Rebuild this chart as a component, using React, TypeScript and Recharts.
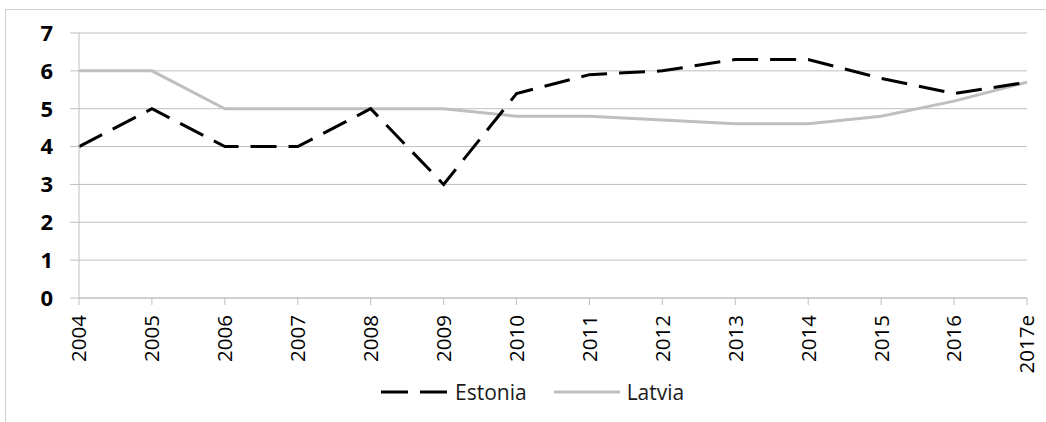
import { LineChart, Line, XAxis, YAxis, CartesianGrid, Legend } from 'recharts';

const years = ['2004', '2005', '2006', '2007', '2008', '2009', '2010', '2011', '2012', '2013', '2014', '2015', '2016', '2017e'];
const estonia = [4, 5, 4, 4, 5, 3, 5.4, 5.9, 6, 6.3, 6.3, 5.8, 5.4, 5.7];
const latvia = [6, 6, 5, 5, 5, 5, 4.8, 4.8, 4.7, 4.6, 4.6, 4.8, 5.2, 5.7];
const yTicks = [0, 1, 2, 3, 4, 5, 6, 7];

const font = '"Open Sans", "Noto Sans", sans-serif';
const gridColor = '#bfbfbf';
const latviaColor = '#bfbfbf';
const dash = '26 12';

const data = years.map((year, i) => ({ year, Estonia: estonia[i], Latvia: latvia[i] }));

const XTick = ({ x, y, payload }: any) => (
  <g transform={`translate(${x},${y})`}>
    <text transform="rotate(-90)" textAnchor="end" dy="0.36em" fontSize={20.5} fontFamily={font} fill="#000">
      {payload.value}
    </text>
  </g>
);

const LegendContent = () => (
  <div style={{ height: 30, display: 'flex', alignItems: 'center', paddingLeft: 381, fontFamily: font, fontSize: 21, color: '#1a1a1a' }}>
    <svg width={66} height={6} style={{ marginRight: 8 }}>
      <line x1={0} y1={3} x2={66} y2={3} stroke="#000" strokeWidth={3} strokeDasharray="27 12" />
    </svg>
    <span>Estonia</span>
    <svg width={66} height={6} style={{ marginLeft: 27, marginRight: 7 }}>
      <line x1={0} y1={3} x2={66} y2={3} stroke={latviaColor} strokeWidth={3} />
    </svg>
    <span>Latvia</span>
  </div>
);

export default function App() {
  return (
    <div style={{ position: 'fixed', left: 0, top: 0, width: 1046, height: 422, background: '#fff', overflow: 'hidden' }}>
      <div
        style={{
          position: 'absolute',
          left: 5,
          top: 9,
          width: 1060,
          height: 430,
          borderTop: '1px solid #d0d0d0',
          borderLeft: '1px solid #d0d0d0',
        }}
      />
      <div style={{ position: 'absolute', left: 0, top: 0 }}>
        <LineChart width={1046} height={422} data={data} margin={{ top: 33, right: 19, left: 0, bottom: 15 }}>
          <CartesianGrid vertical={false} stroke={gridColor} strokeWidth={1} />
          <XAxis
            dataKey="year"
            interval={0}
            height={79}
            tickSize={7}
            tickMargin={10}
            tick={<XTick />}
            axisLine={{ stroke: gridColor }}
            tickLine={{ stroke: gridColor }}
          />
          <YAxis
            domain={[0, 7]}
            ticks={yTicks}
            interval={0}
            width={79}
            tickSize={9}
            tickMargin={17}
            axisLine={{ stroke: gridColor }}
            tickLine={{ stroke: gridColor }}
            tick={{ fontSize: 22, fontWeight: 'bold', fill: '#000', fontFamily: font }}
          />
          <Legend verticalAlign="bottom" height={30} content={<LegendContent />} wrapperStyle={{ left: 0, width: 1046 }} />
          <Line
            type="linear"
            dataKey="Latvia"
            stroke={latviaColor}
            strokeWidth={3}
            dot={false}
            isAnimationActive={false}
          />
          <Line
            type="linear"
            dataKey="Estonia"
            stroke="#000"
            strokeWidth={3}
            strokeDasharray={dash}
            dot={false}
            isAnimationActive={false}
          />
        </LineChart>
      </div>
    </div>
  );
}
